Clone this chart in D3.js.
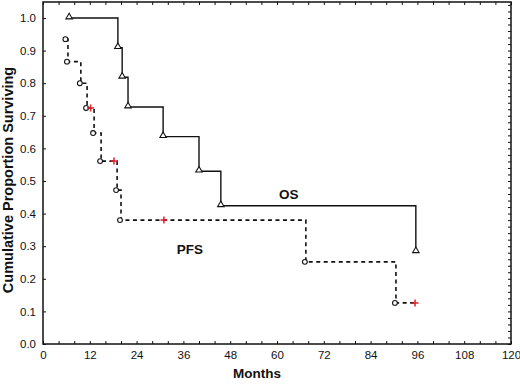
<!DOCTYPE html>
<html>
<head>
<meta charset="utf-8">
<script src="https://cdn.jsdelivr.net/npm/d3@7"></script>
<style>
  body { margin: 0; background: #fff; }
  .axis text { font-family: "Liberation Sans", Arial, sans-serif; font-size: 11.5px; fill: #111; }
  .axis path, .axis line { stroke: #111; }
  .title { font-family: "Liberation Sans", Arial, sans-serif; font-weight: bold; font-size: 13.5px; fill: #111; }
</style>
</head>
<body>
<script>
// Kaplan-Meier curves, OS vs PFS

var osTimes = [6.7, 19.2, 20.3, 21.8, 30.8, 40.0, 45.6, 95.6];
var osSurv  = [1.0, 0.909, 0.818, 0.727, 0.636, 0.530, 0.424, 0.283];

var pfsTimes = [6.0, 6.4, 9.7, 11.3, 13.1, 14.9, 19.0, 20.0, 67.4, 90.5];
var pfsSurv  = [0.935, 0.866, 0.800, 0.724, 0.647, 0.561, 0.472, 0.380, 0.252, 0.126];
var pfsCensor = [12.2, 18.2, 31.0, 95.4];

var xTicks = [0, 12, 24, 36, 48, 60, 72, 84, 96, 108, 120];
var yTicks = [0, 0.1, 0.2, 0.3, 0.4, 0.5, 0.6, 0.7, 0.8, 0.9, 1.0];

var W = 520, H = 384;
var margin = {left: 43, top: 2, right: 9, bottom: 40};
var width = W - margin.left - margin.right, height = H - margin.top - margin.bottom;

var svg = d3.select("body").append("svg")
  .attr("width", W).attr("height", H)
  .append("g")
  .attr("transform", "translate(" + margin.left + "," + margin.top + ")");

var x = d3.scaleLinear().domain([0, 120]).range([0, width]);
var y = d3.scaleLinear().domain([0, 1.049]).range([height, 0]);

// frame
svg.append("rect")
  .attr("x", 0).attr("y", 0).attr("width", width).attr("height", height)
  .attr("fill", "none").attr("stroke", "#111").attr("stroke-width", 1.5);

var minorX = d3.range(0, 121, 4);
var minorY = d3.range(0, 1.045, 0.02);

// bottom axis: labels outside, ticks inward
svg.append("g").attr("class", "axis")
  .attr("transform", "translate(0," + height + ")")
  .call(d3.axisBottom(x).tickValues(xTicks).tickFormat(d3.format("d")).tickSizeInner(0).tickSizeOuter(0).tickPadding(7))
  .call(function(g){ g.select(".domain").remove(); });
svg.append("g").attr("class", "axis")
  .attr("transform", "translate(0," + height + ")")
  .call(d3.axisTop(x).tickValues(minorX).tickFormat("").tickSizeInner(3).tickSizeOuter(0))
  .call(function(g){ g.select(".domain").remove(); });
// top axis ticks
svg.append("g").attr("class", "axis")
  .call(d3.axisBottom(x).tickValues(minorX).tickFormat("").tickSizeInner(3).tickSizeOuter(0))
  .call(function(g){ g.select(".domain").remove(); });

// left axis
svg.append("g").attr("class", "axis")
  .call(d3.axisLeft(y).tickValues(yTicks).tickFormat(d3.format(".1f")).tickSizeInner(-3).tickSizeOuter(0).tickPadding(7))
  .call(function(g){ g.select(".domain").remove(); });
// right axis ticks
svg.append("g").attr("class", "axis")
  .attr("transform", "translate(" + width + ",0)")
  .call(d3.axisLeft(y).tickValues(minorY).tickFormat("").tickSizeInner(3).tickSizeOuter(0))
  .call(function(g){ g.select(".domain").remove(); });

// step curves
function stepPoints(times, surv, endT) {
  var pts = times.map(function(t, i){ return [t, surv[i]]; });
  if (endT != null) pts.push([endT, surv[surv.length - 1]]);
  return pts;
}
function levelAt(times, surv, t) {
  var v = 1;
  times.forEach(function(tt, i){ if (tt <= t) v = surv[i]; });
  return v;
}

var line = d3.line()
  .x(function(d){ return x(d[0]); })
  .y(function(d){ return y(d[1]); })
  .curve(d3.curveStepAfter);

svg.append("path")
  .datum(stepPoints(osTimes, osSurv))
  .attr("d", line)
  .attr("fill", "none").attr("stroke", "#111").attr("stroke-width", 1.4);

svg.append("path")
  .datum(stepPoints(pfsTimes, pfsSurv, d3.max(pfsCensor)))
  .attr("d", line)
  .attr("fill", "none").attr("stroke", "#111").attr("stroke-width", 1.6)
  .attr("stroke-dasharray", "4,3.5");

// OS triangles
svg.selectAll(".tri")
  .data(osTimes.map(function(t, i){ return [t, osSurv[i]]; }))
  .enter().append("path")
  .attr("class", "tri")
  .attr("d", d3.symbol().type(d3.symbolTriangle).size(18))
  .attr("transform", function(d){ return "translate(" + x(d[0]) + "," + (y(d[1]) - 1) + ")"; })
  .attr("fill", "#fff").attr("stroke", "#111").attr("stroke-width", 1.1);

// PFS circles
svg.selectAll(".circ")
  .data(pfsTimes.map(function(t, i){ return [t, pfsSurv[i]]; }))
  .enter().append("circle")
  .attr("class", "circ")
  .attr("cx", function(d){ return x(d[0]) - 1; })
  .attr("cy", function(d){ return y(d[1]); })
  .attr("r", 2.4)
  .attr("fill", "#fff").attr("stroke", "#111").attr("stroke-width", 1.1);

// censored marks
svg.selectAll(".cens")
  .data(pfsCensor.map(function(t){ return [t, levelAt(pfsTimes, pfsSurv, t)]; }))
  .enter().append("path")
  .attr("class", "cens")
  .attr("d", "M-3.5,0H3.5M0,-3.5V3.5")
  .attr("transform", function(d){ return "translate(" + x(d[0]) + "," + y(d[1]) + ")"; })
  .attr("stroke", "#e0202a").attr("stroke-width", 1.5).attr("fill", "none");

// curve labels
svg.append("text").attr("class", "title")
  .attr("x", x(60.5)).attr("y", y(0.445))
  .text("OS");
svg.append("text").attr("class", "title")
  .attr("x", x(34.3)).attr("y", y(0.275))
  .text("PFS");

// axis titles
svg.append("text").attr("class", "title")
  .attr("text-anchor", "middle")
  .attr("x", width / 2 - 20).attr("y", height + 34)
  .text("Months");
svg.append("text").attr("class", "title")
  .attr("text-anchor", "middle")
  .attr("transform", "translate(" + (-30) + "," + 178 + ") rotate(-90)")
  .style("font-size", "14.5px")
  .text("Cumulative Proportion Surviving");
</script>
</body>
</html>
